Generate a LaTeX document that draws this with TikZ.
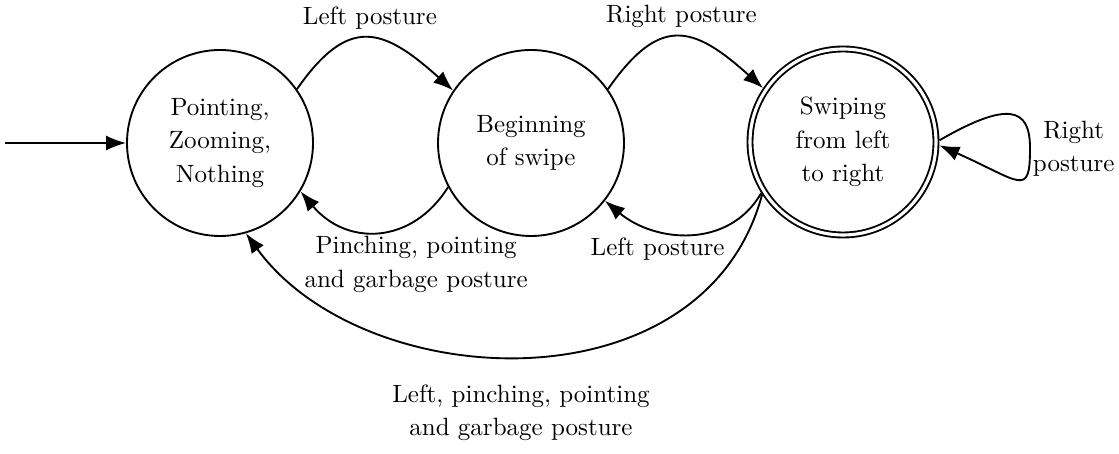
\documentclass[tikz,border=0pt]{standalone}
\usetikzlibrary{arrows.meta}
\begin{document}
\begin{tikzpicture}[x=0.4pt, y=0.4pt,
  txt/.style={font=\fontsize{10pt}{13.4pt}\selectfont, align=center},
  state/.style={txt, circle, draw, line width=0.75pt, minimum size=74.4pt, inner sep=0pt},
  accept/.style={state, double, double distance=1.25pt, outer sep=1.375pt},
  edge/.style={line width=0.75pt, -{Latex[length=8pt,width=6pt]}},
  lbl/.style={txt}]
\useasboundingbox (0,0) rectangle (1119,453);

\node[state] (A) at (220,310) {Pointing,\\Zooming,\\Nothing};
\node[state] (B) at (531,310) {Beginning\\of swipe};
\node[accept] (C) at (843,311) {Swiping\\from left\\to right};
\coordinate (start) at (5,310);

\draw[edge] (start) -- (A);

\draw[edge] (A.35) .. controls +(55:90) and +(138:95) .. (B.146)
  node[lbl, midway, above, xshift=0.8pt] {Left posture};

\draw[edge] (B.208) .. controls +(238:68) and +(-50:72) .. (A.329)
  node[lbl, pos=0.5, xshift=15.2pt, yshift=-13.2pt] {Pinching, pointing\\and garbage posture};

\draw[edge] (B.35) .. controls +(55:90) and +(138:95) .. (C.146)
  node[lbl, midway, above, xshift=1.2pt] {Right posture};

\draw[edge] (C.212) .. controls +(240:65) and +(-40:65) .. (B.322)
  node[lbl, pos=0.5, xshift=-12.8pt, yshift=-6pt] {Left posture};

\draw[edge] (C.1) .. controls +(30:80) and +(0,40) .. (1030,305)
  node[lbl, right, inner sep=0.8pt, yshift=-0.4pt] {Right\\posture}
  .. controls +(0,-50) and +(-24:90) .. (C.-2);

\draw[edge] (C.213) .. controls +(255:225) and +(306:200) .. (A.286)
  node[lbl, pos=0.5, xshift=-2.1pt, yshift=-22.6pt] {Left, pinching, pointing\\and garbage posture};
\end{tikzpicture}
\end{document}
